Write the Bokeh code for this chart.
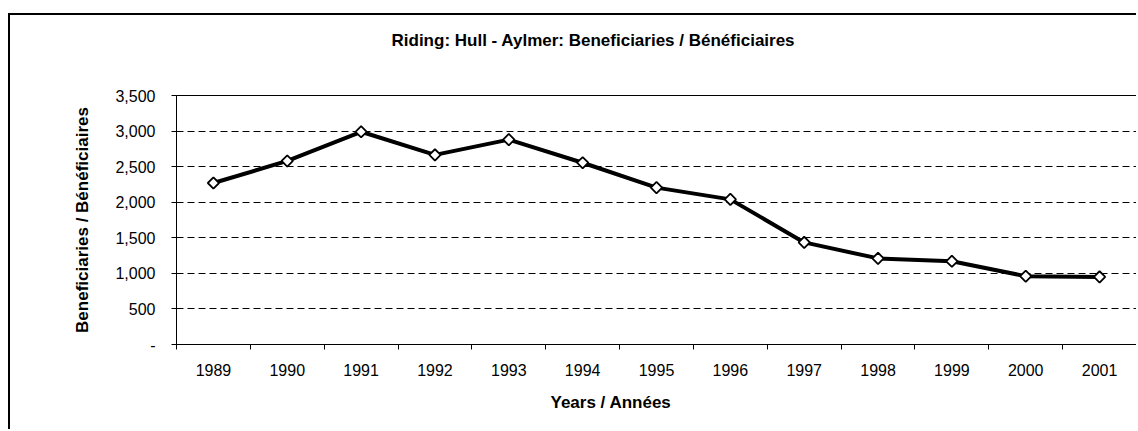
import numpy as np
from bokeh.plotting import figure
from bokeh.models import Range1d, FixedTicker, Title
from bokeh.embed import file_html
from bokeh.resources import INLINE

# ---- data ----
years = ["1989", "1990", "1991", "1992", "1993", "1994", "1995",
         "1996", "1997", "1998", "1999", "2000", "2001"]
beneficiaries = [2270, 2580, 2990, 2665, 2880, 2555, 2205,
                 2040, 1435, 1210, 1170, 960, 950]
y_ticks = [0, 500, 1000, 1500, 2000, 2500, 3000, 3500]
y_tick_labels = ["-", "500", "1,000", "1,500", "2,000", "2,500", "3,000", "3,500"]
chart_title = "Riding:  Hull - Aylmer:  Beneficiaries / Bénéficiaires"
x_title = "Years / Années"
y_title = "Beneficiaries / Bénéficiaires"

NARROW = "'Liberation Sans Narrow', 'Arial Narrow', 'Liberation Sans', sans-serif"
REG = "'Liberation Sans', Arial, sans-serif"

W, H = 1128, 416
p = figure(width=W, height=H, output_backend="svg", toolbar_location=None,
           x_range=Range1d(-0.5, len(years) - 0.5), y_range=Range1d(0, 3500),
           min_border_left=166, min_border_right=2,
           min_border_top=80, min_border_bottom=87)
p.margin = (13, 0, 0, 8)
p.styles = {"border-left": "2px solid black", "border-top": "2px solid black"}
p.background_fill_color = "white"
p.border_fill_color = "white"
p.outline_line_color = "black"
p.outline_line_width = 1

xpos = list(range(len(years)))

# x axis: labels at category centres, tick marks at category boundaries
p.xaxis.ticker = FixedTicker(ticks=xpos,
                             minor_ticks=[i - 0.5 for i in range(len(years) + 1)])
p.xaxis.major_label_overrides = {i: yr for i, yr in zip(xpos, years)}
p.xaxis.major_tick_in = 0
p.xaxis.major_tick_out = 0
p.xaxis.minor_tick_in = 0
p.xaxis.minor_tick_out = 5
p.xaxis.minor_tick_line_color = "black"
p.xaxis.axis_line_color = "black"
p.xaxis.major_label_text_font = REG
p.xaxis.major_label_text_font_size = "16px"
p.xaxis.major_label_text_color = "black"
p.xaxis.major_label_standoff = 14
p.xgrid.visible = False

# y axis
p.yaxis.ticker = FixedTicker(ticks=y_ticks, minor_ticks=[])
p.yaxis.major_label_overrides = dict(zip(y_ticks, y_tick_labels))
p.yaxis.major_tick_in = 0
p.yaxis.major_tick_out = 5
p.yaxis.major_tick_line_color = "black"
p.yaxis.axis_line_color = "black"
p.yaxis.major_label_text_font = REG
p.yaxis.major_label_text_font_size = "16px"
p.yaxis.major_label_text_color = "black"
p.yaxis.major_label_standoff = 16
p.yaxis.axis_label = y_title
p.yaxis.axis_label_text_font = NARROW
p.yaxis.axis_label_text_font_style = "bold"
p.yaxis.axis_label_text_font_size = "17px"
p.yaxis.axis_label_text_color = "black"
p.yaxis.axis_label_standoff = 20
p.ygrid.ticker = FixedTicker(ticks=y_ticks[1:-1])
p.ygrid.grid_line_color = "black"
p.ygrid.grid_line_dash = "7 4"
p.ygrid.grid_line_width = 1

# series
p.line(xpos, beneficiaries, line_color="black", line_width=4)
p.scatter(xpos, beneficiaries, marker="square", angle=np.pi / 4, size=8,
          fill_color="white", line_color="black", line_width=1.8)

# titles (a blank spacer title sits between the frame and the main title)
p.add_layout(Title(text=" ", standoff=37, text_font_size="2px",
                   text_color="white"), "above")
p.add_layout(Title(text=chart_title, align="left", offset=215, standoff=10,
                   text_font=NARROW, text_font_style="bold",
                   text_font_size="17px", text_color="black"), "above")
p.add_layout(Title(text=x_title, align="left", offset=374, standoff=24,
                   text_font=NARROW, text_font_style="bold",
                   text_font_size="17px", text_color="black"), "below")

open("out.html", "w").write(file_html(p, INLINE))
